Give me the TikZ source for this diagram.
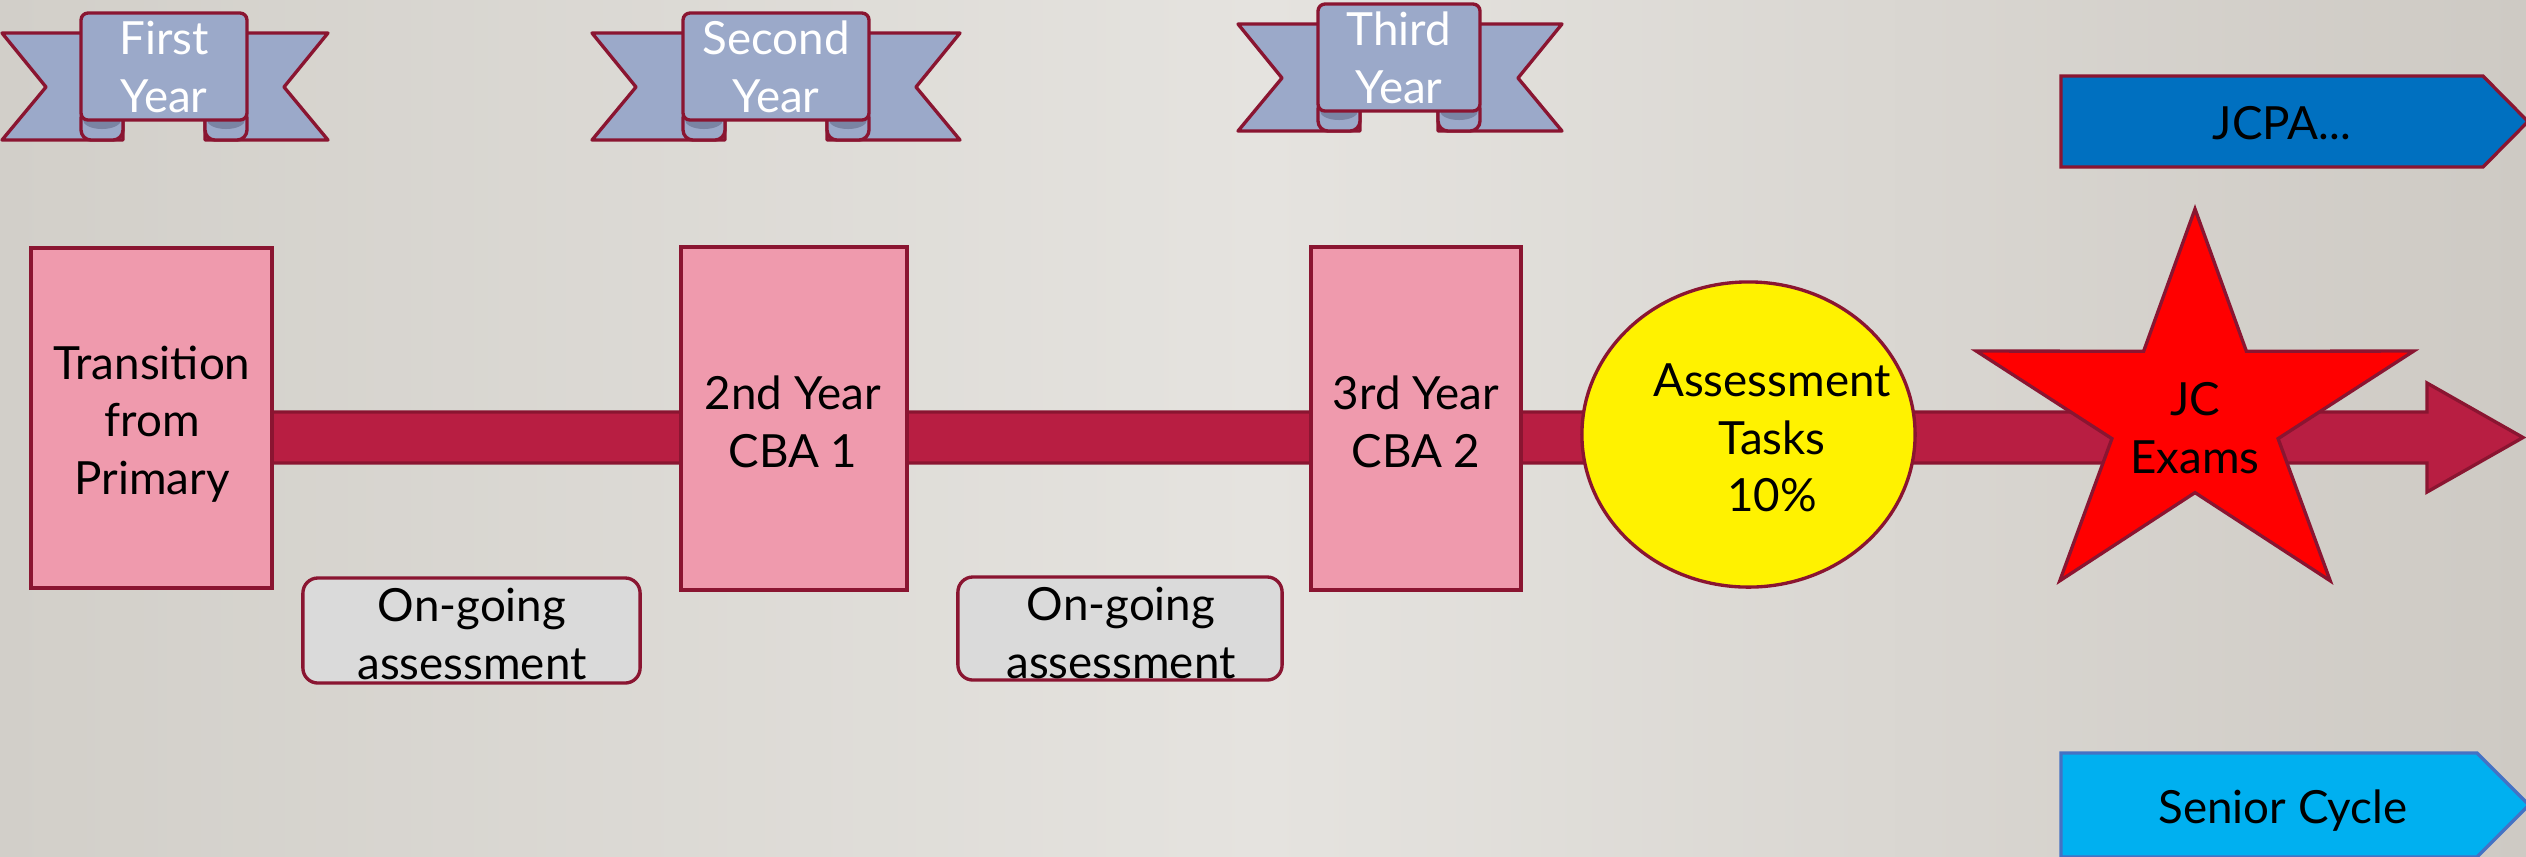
\documentclass[tikz,border=0pt]{standalone}
\usepackage{fontspec}
\setmainfont{Lato}
\usetikzlibrary{shapes.geometric}
\definecolor{crim}{RGB}{138,21,49}
\definecolor{ribc}{RGB}{155,169,201}
\definecolor{curlc}{RGB}{122,132,163}
\definecolor{pinkc}{RGB}{239,154,173}
\definecolor{shaftc}{RGB}{184,30,66}
\definecolor{ongc}{RGB}{218,218,218}
\definecolor{jcpac}{RGB}{0,112,192}
\definecolor{seniorc}{RGB}{0,176,240}
\definecolor{sblue}{RGB}{68,114,196}
\definecolor{bgl}{RGB}{210,207,201}
\definecolor{bgm}{RGB}{229,227,223}
\definecolor{bgr}{RGB}{206,202,196}
\newcommand{\myfs}{\fontsize{13}{16.36}\selectfont}
\tikzset{
  bord/.style={draw=crim, line width=0.95pt},
  pinkbox/.style={bord, fill=pinkc, rectangle, inner sep=0pt},
  ongo/.style={bord, fill=ongc, rectangle, rounded corners=0.15cm, inner sep=0pt},
  ribfill/.style={bord, fill=ribc, line join=round},
  ribtext/.style={text=white, align=center, font=\myfs, inner sep=0pt},
  plaintext/.style={align=center, font=\myfs, inner sep=0pt},
}
\newcommand{\rib}[7]{%
  \draw[ribfill] (#2,#6+20) -- (#4+42,#6+20) -- (#4+42,#6+127) -- (#2,#6+127) -- (#2+44,#6+74) -- cycle;
  \draw[ribfill] (#3,#6+20) -- (#5-42,#6+20) -- (#5-42,#6+127) -- (#3,#6+127) -- (#3-44,#6+74) -- cycle;
  \draw[ribfill, rounded corners=0.1cm] (#4,#6+95) rectangle (#4+42,#6+127);
  \draw[ribfill, rounded corners=0.1cm] (#5-42,#6+95) rectangle (#5,#6+127);
  \fill[curlc] (#4+21,#6+107) ellipse [x radius=0.19cm, y radius=0.09cm];
  \fill[curlc] (#5-21,#6+107) ellipse [x radius=0.19cm, y radius=0.09cm];
  \draw[ribfill, rounded corners=0.07cm] (#4,#6+107) -- (#4,#6) -- (#5,#6) -- (#5,#6+107) -- cycle;
  \node[ribtext] (#1) at ({(#4+#5)/2},#6+54) {#7};
}
\begin{document}
\begin{tikzpicture}[x=0.01cm, y=-0.01cm]
\useasboundingbox (0,0) rectangle (2526,856);
\shade[left color=bgl, right color=bgr, middle color=bgm] (0,0) rectangle (2526,856);

% main timeline arrow
\coordinate (tip) at (2523,437.5);
\draw[bord, fill=shaftc] (150,412) -- (2427,412) -- (2427,383) -- (tip) -- (2427,492) -- (2427,463) -- (150,463) -- cycle;

% boxes
\node[pinkbox, minimum width=2.41cm, minimum height=3.40cm] (b1) at (151.5,418) {};
\node[plaintext] (b1t) at (152,424) {Transition\\from\\Primary};
\node[pinkbox, minimum width=2.26cm, minimum height=3.43cm] (b2) at (794,418.5) {};
\node[plaintext] (b2t) at (793,422) {2nd Year\\CBA 1};
\node[pinkbox, minimum width=2.10cm, minimum height=3.43cm] (b3) at (1416,418.5) {};
\node[plaintext] (b3t) at (1416,422) {3rd Year\\CBA 2};

\node[ongo, minimum width=3.37cm, minimum height=1.05cm] (o1) at (471.5,630.5) {};
\node[plaintext] (o1t) at (472,634) {On-going\\assessment};
\node[ongo, minimum width=3.24cm, minimum height=1.03cm] (o2) at (1120,628.5) {};
\node[plaintext] (o2t) at (1121,633) {On-going\\assessment};

% ellipse
\node[ellipse, bord, fill=yellow, minimum width=3.33cm, minimum height=3.05cm, inner sep=0pt] (ell) at (1748.5,434.5) {};
\node[plaintext] (ellt) at (1772,438) {Assessment\\Tasks\\10\%};

% star
\draw[bord, fill=red, line join=miter] (2195,209) -- (2246.4,351.3) -- (2413.75,351) -- (2278.1,438.6) -- (2330.2,580.75)
  -- (2195,492.6) -- (2059.8,580.75) -- (2111.9,438.6) -- (1976.25,351) -- (2143.6,351.3) -- cycle;
\node[plaintext] (jc) at (2195,428) {JC\\Exams};

% right arrows
\draw[bord, fill=jcpac] (2061,76) -- (2483,76) -- (2528,121.5) -- (2483,167) -- (2061,167) -- cycle;
\node[plaintext, anchor=base] (jcpa) at (2282,139) {JCPA...};
\draw[draw=sblue, line width=0.95pt, fill=seniorc] (2061,753) -- (2477,753) -- (2529,805) -- (2477,857) -- (2061,857) -- cycle;
\node[plaintext, anchor=base] (senior) at (2283,823) {Senior Cycle};

% ribbons
\rib{r1}{2}{328}{81}{247}{13}{First\\Year}
\rib{r2}{592}{960}{683}{869}{13}{Second\\Year}
\rib{r3}{1238}{1562}{1318}{1480}{4}{Third\\Year}
\end{tikzpicture}
\end{document}
